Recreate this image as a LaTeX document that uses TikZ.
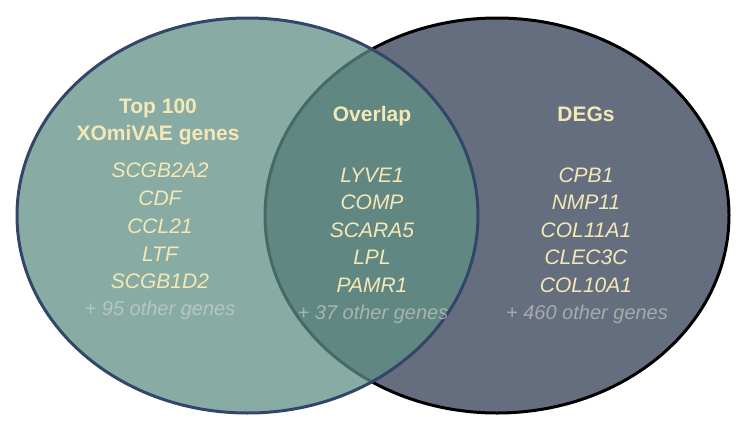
\documentclass[tikz,border=0pt]{standalone}
\usepackage{fontspec}
\setmainfont{Liberation Sans}
\usetikzlibrary{shapes.geometric}
\definecolor{degfill}{HTML}{646E7E}
\definecolor{xofill}{HTML}{609086}
\definecolor{xoline}{HTML}{33466A}
\definecolor{cream}{HTML}{F4E8B6}
\definecolor{paletxt}{HTML}{DDDCCF}
\tikzset{
  setshape/.style={ellipse, line width=3pt, inner sep=0pt, minimum height=395pt},
  headtxt/.style={anchor=base, text=cream, font=\fontsize{21}{25}\selectfont\bfseries},
  genetxt/.style={anchor=base, text=cream, font=\fontsize{21}{25}\selectfont\itshape},
  moretxt/.style={anchor=base, text=paletxt, text opacity=0.55, font=\fontsize{20}{24}\selectfont\itshape}
}
\begin{document}
\begin{tikzpicture}[x=1pt,y=-1pt]
\useasboundingbox (0,0) rectangle (747,431);
\node[setshape, draw=black, fill=degfill, minimum width=464pt] (degset) at (497,215.5) {};
\node[setshape, draw=xoline, fill=xofill, fill opacity=0.75, draw opacity=1, minimum width=461pt] (xoset) at (247.5,215.5) {};
% left column
\node[headtxt] (h1a) at (158,113) {Top 100};
\node[headtxt] (h1b) at (158,140) {XOmiVAE genes};
\node[genetxt] (g1a) at (160,177) {SCGB2A2};
\node[genetxt] (g1b) at (160,205) {CDF};
\node[genetxt] (g1c) at (160,233) {CCL21};
\node[genetxt] (g1d) at (160,261) {LTF};
\node[genetxt] (g1e) at (160,288) {SCGB1D2};
\node[moretxt] (m1) at (160,315) {+ 95 other genes};
% overlap column
\node[headtxt] (h2) at (372,121) {Overlap};
\node[genetxt] (g2a) at (372,182) {LYVE1};
\node[genetxt] (g2b) at (372,209) {COMP};
\node[genetxt] (g2c) at (372,237) {SCARA5};
\node[genetxt] (g2d) at (372,264) {LPL};
\node[genetxt] (g2e) at (372,292) {PAMR1};
\node[moretxt] (m2) at (373,319) {+ 37 other genes};
% DEG column
\node[headtxt] (h3) at (586,121) {DEGs};
\node[genetxt] (g3a) at (586,182) {CPB1};
\node[genetxt] (g3b) at (586,209) {NMP11};
\node[genetxt] (g3c) at (586,237) {COL11A1};
\node[genetxt] (g3d) at (586,264) {CLEC3C};
\node[genetxt] (g3e) at (586,292) {COL10A1};
\node[moretxt] (m3) at (587,319) {+ 460 other genes};
\end{tikzpicture}
\end{document}
